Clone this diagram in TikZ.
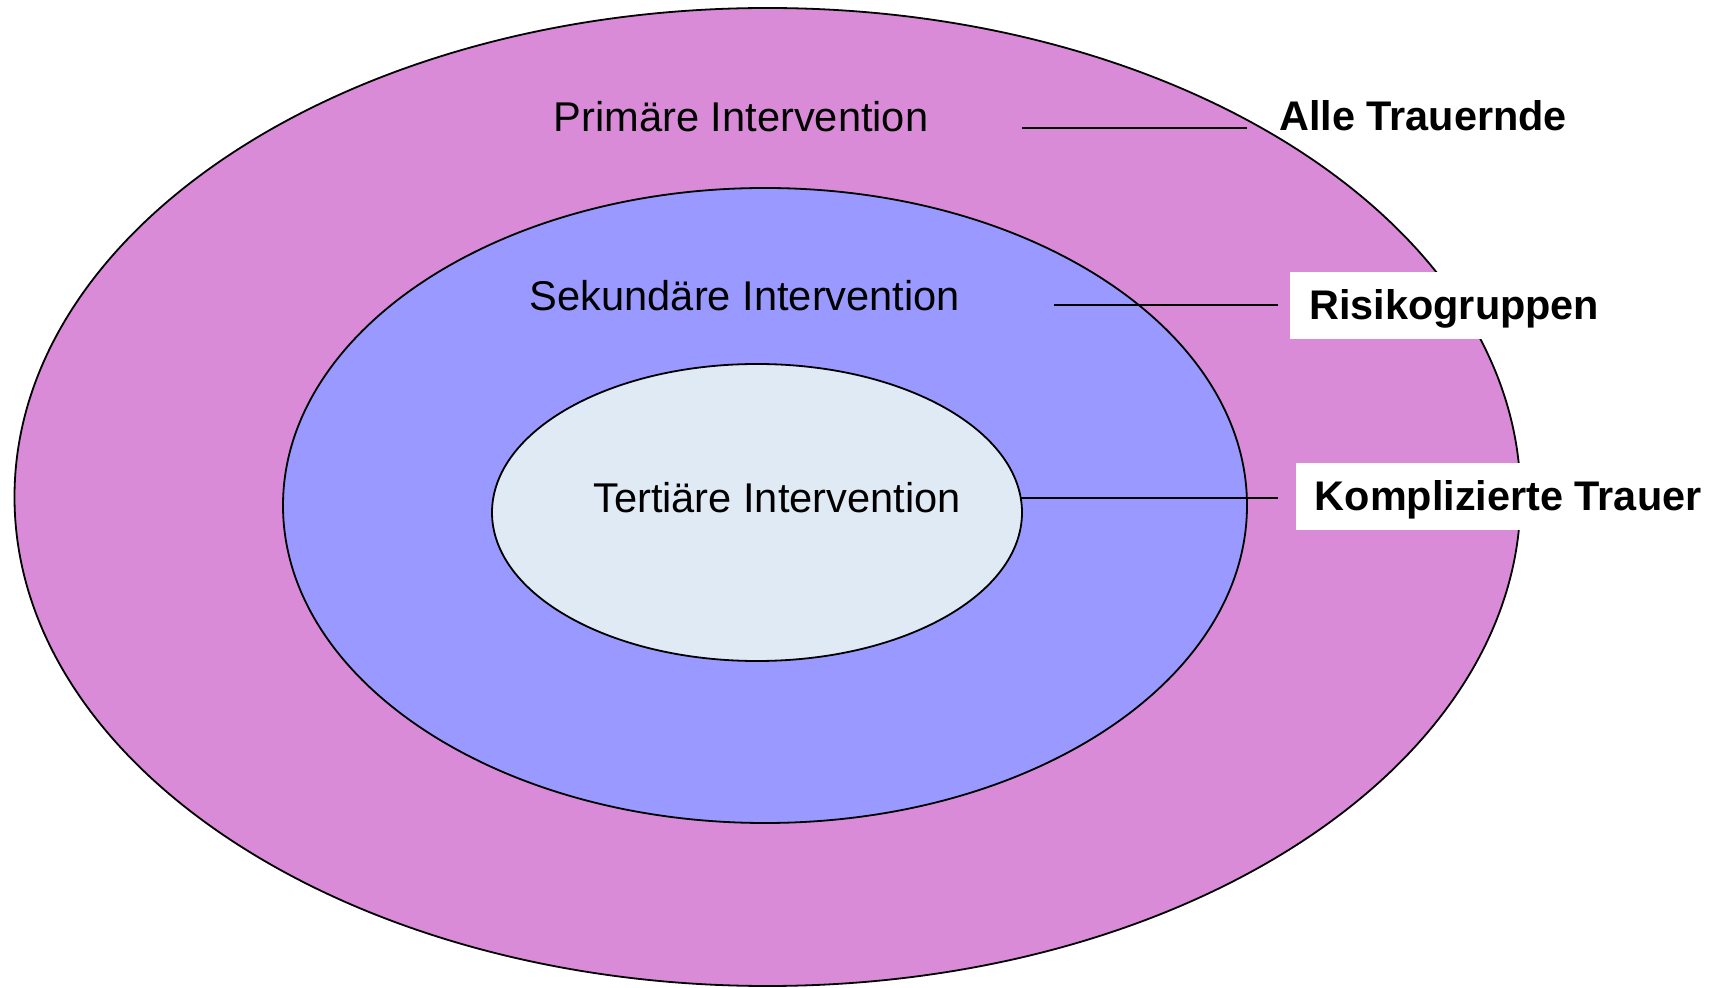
\documentclass[tikz,border=0pt]{standalone}
\usepackage{fontspec}
\setmainfont{Liberation Sans}
\usepackage{tikz}
\usetikzlibrary{shapes.geometric,calc}
\definecolor{ringpink}{RGB}{217,139,216}
\definecolor{ringblue}{RGB}{153,153,255}
\definecolor{ringpale}{RGB}{224,234,245}

\begin{document}
\begin{tikzpicture}[x=0.5pt,y=-0.5pt,
    ring/.style={ellipse,draw=black,line width=0.9pt,inner sep=0pt},
    ringtext/.style={font=\fontsize{20.8}{25}\selectfont,inner sep=0pt},
    grouplabel/.style={font=\fontsize{20.7}{25}\selectfont\bfseries,
      inner xsep=9.5pt,inner ysep=7pt,text height=16.6pt,text depth=2.9pt,anchor=west},
    pointer/.style={line width=1pt}]
      % Set up the canvas
      \useasboundingbox (0,0) rectangle (1720,988);
      % The three rings
      \node[ring,fill=ringpink,minimum width=753pt,minimum height=489pt] (prim) at (767.5,497) {};
      \node[ring,fill=ringblue,minimum width=482pt,minimum height=317.5pt] (sek) at (765,505.5) {};
      \node[ring,fill=ringpale,minimum width=265pt,minimum height=148.5pt] (tert) at (757,512.5) {};
      \node[ringtext] (primtext) at (741,117) {Primäre Intervention};
      \node[ringtext] (sektext) at (745,296) {Sekundäre Intervention};
      \node[ringtext] (terttext) at (777,498) {Tertiäre Intervention};
      % Labels on the right
      \node[grouplabel] (alle) at (1260,117) {Alle Trauernde};
      \node[grouplabel,fill=white] (risiko) at (1290,305.5) {Risikogruppen};
      \node[grouplabel,fill=white] (kompl) at (1295.5,497) {Komplizierte Trauer};
      \coordinate (p1) at (1022,128);
      \coordinate (p2) at (1054,305);
      \coordinate (p3) at (1021,498);
      \draw[pointer,shorten >=6.5pt] (p1) -- (p1 -| alle.west);
      \draw[pointer,shorten >=6pt] (p2) -- (p2 -| risiko.west);
      \draw[pointer,shorten >=8.75pt] (p3) -- (p3 -| kompl.west);
    \end{tikzpicture}
\end{document}
